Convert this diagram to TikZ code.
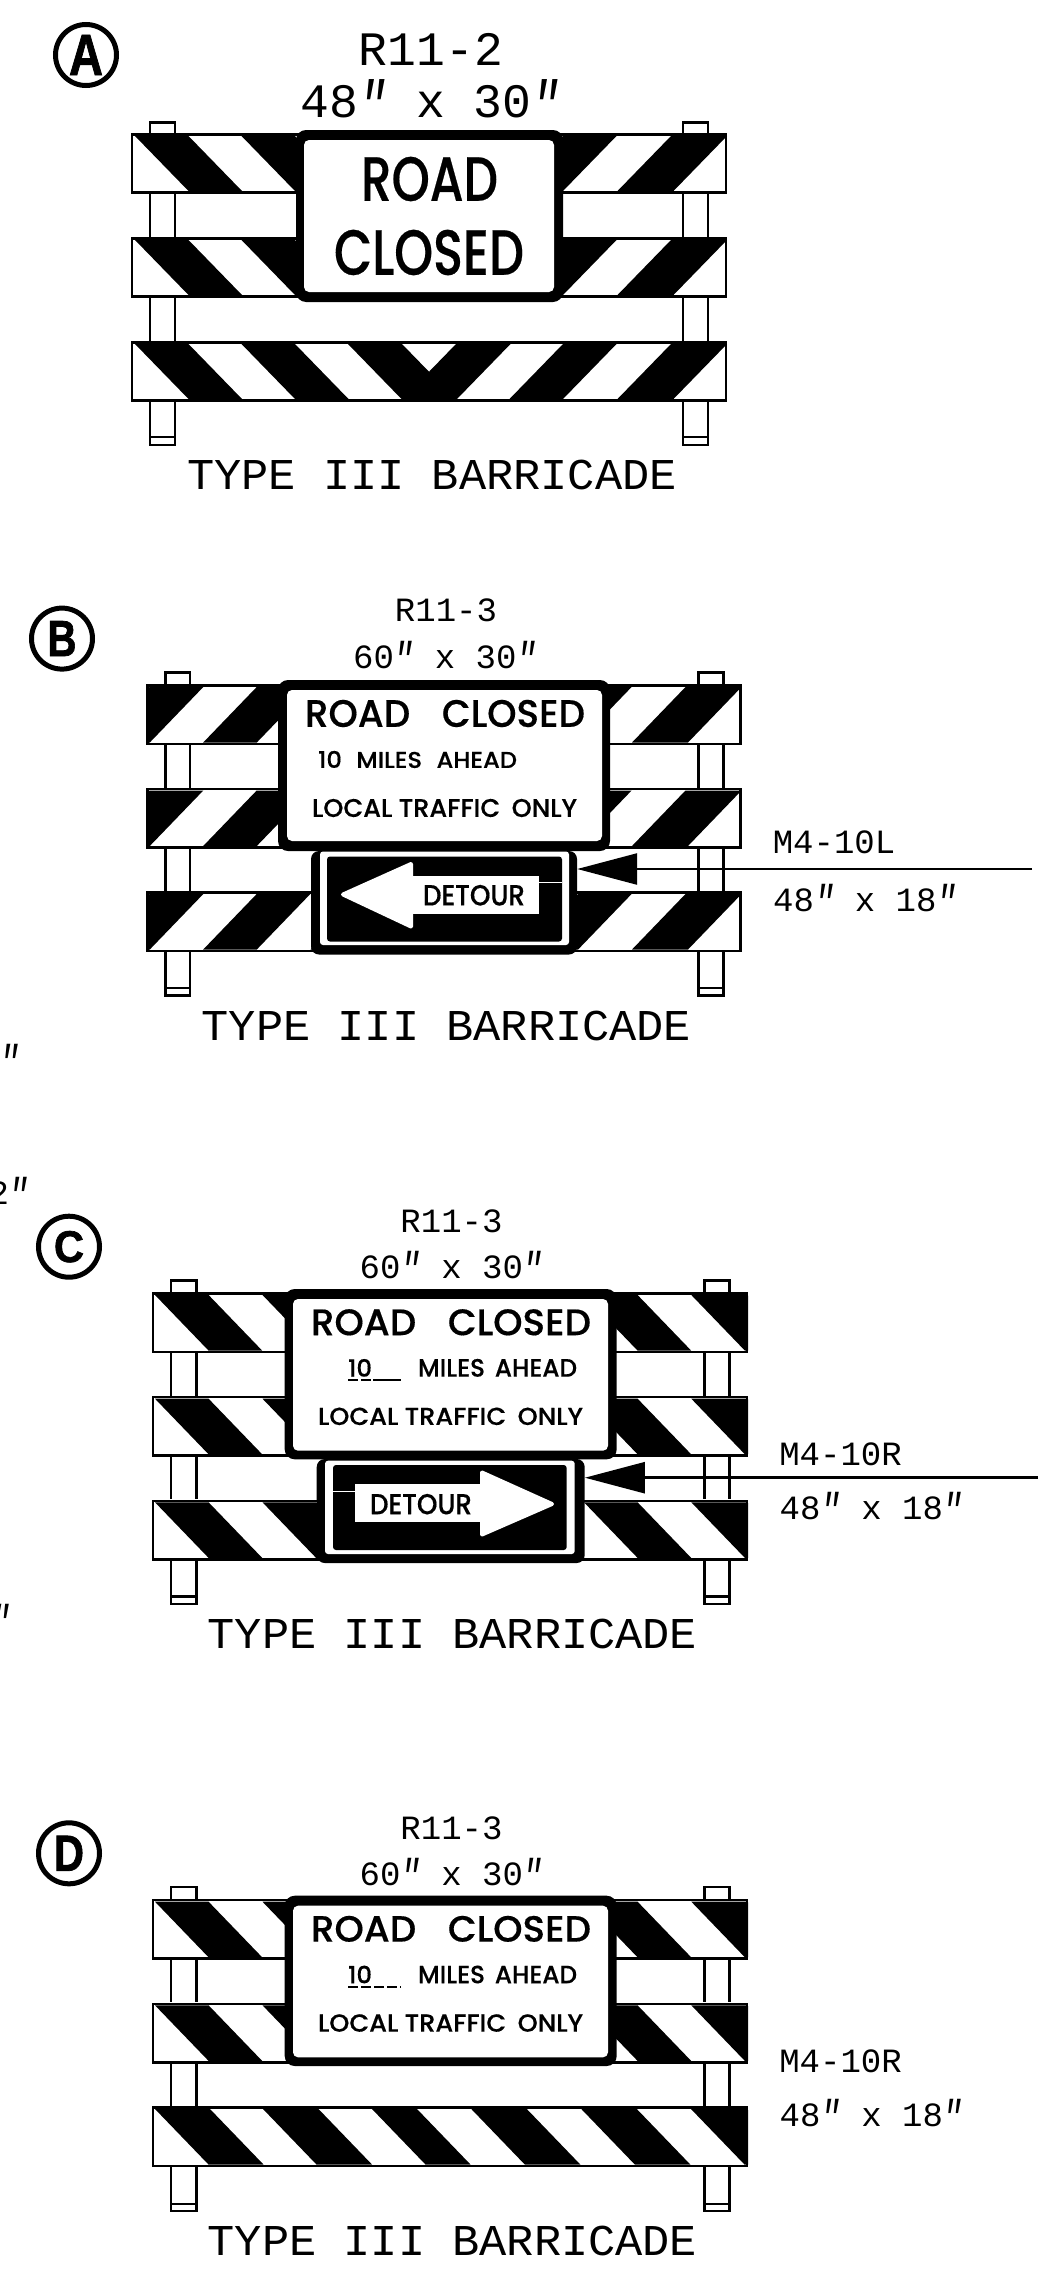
\documentclass[tikz,border=0pt]{standalone}
\usepackage{fontspec}
\usepackage{graphicx}
\usetikzlibrary{arrows.meta}
\newfontfamily\monof{Liberation Mono}
\newfontfamily\signf{Poppins}[UprightFont=* Medium,FakeBold=0.4]
\newfontfamily\letf{Liberation Sans}[UprightFont=* Bold,FakeBold=1.5]
\newcommand{\prm}{\raisebox{-.19em}{\scalebox{1}[1.35]{\itshape ″}}}
% fitted text: name, x1,y1,x2,y2, text
\newcommand{\fittext}[6]{\node[inner sep=0,anchor=center] (#1) at ({(#2+#4)/2},{(#3+#5)/2}) {\resizebox{\dimexpr#4pt-#2pt\relax}{\dimexpr#5pt-#3pt\relax}{\signf #6}};}
\newcommand{\monotext}[5]{\node[inner sep=0,anchor=base] (#1) at (#3,#4) {\fontsize{#2}{#2}\monof #5};}
\newcommand{\typetext}[3]{\node[inner sep=0,anchor=base] (#1) at (#2,#3) {\scalebox{1.03}[1]{\fontsize{44}{44}\monof TYPE III BARRICADE}};}
\newcommand{\letter}[7]{\node[circ,minimum size=#4pt] (#1) at (#2,#3) {};
  \node[inner sep=0] (#1t) at (#2,#3) {\resizebox{#5pt}{#6pt}{\letf #7}};}
\newcommand{\barpost}[5]{\draw[thinline,fill=white] (#1,#3) rectangle (#2,#4);\draw[thinline] (#1,#5)--(#2,#5);}
\newcommand{\stripebar}[6]{%
 \begin{scope}
  \clip (#1,#3) rectangle (#2,#4);
  \fill[white] (#1,#3) rectangle (#2,#4);
  \foreach \a/\w in {#5} {\fill[black] (\a,#3+3) -- (\a+\w,#3+3) -- (\a+\w+53.5,#4-2.5) -- (\a+53.5,#4-2.5) -- cycle;}
  \foreach \a/\w in {#6} {\fill[black] (\a,#3+3) -- (\a+\w,#3+3) -- (\a+\w-53.5,#4-2.5) -- (\a-53.5,#4-2.5) -- cycle;}
 \end{scope}
 \draw[thinline] (#1+1,#3+1.5) rectangle (#2-1,#4-1);}
% rounded rectangle node: name, x1,y1,x2,y2, radius, colour
\newcommand{\signbox}[7]{\node[inner sep=0,fill=#7,rounded corners=#6pt,minimum width=\dimexpr#4pt-#2pt\relax,minimum height=\dimexpr#5pt-#3pt\relax] (#1) at ({(#2+#4)/2},{(#3+#5)/2}) {};}
\tikzset{
 thinline/.style={line width=2.5pt,line join=miter},
 circ/.style={circle,draw=black,line width=5pt,inner sep=0,fill=white},
 callout/.style={line width=2.5pt,-{Triangle[length=60pt,width=31pt]},shorten >=0pt},
 dashul/.style={line width=2pt,dash pattern=on 10pt off 3pt},
 solidul/.style={line width=2pt}
}
\begin{document}
\begin{tikzpicture}[x=1pt,y=-1pt]
\useasboundingbox (0,0) rectangle (1045,2283);
\fill[white] (0,0) rectangle (1045,2283);
\clip (0,0) rectangle (1045,2283);
%%% A
\letter{la}{86}{55}{61}{34}{40}{A}
\monotext{aR}{48}{431}{66}{R11-2}
\monotext{aS}{48}{430.5}{117}{48\prm\ x 30\prm}
\barpost{150}{175}{122.5}{445}{437}
\barpost{683}{708}{122.5}{445}{437}
\foreach \yy/\zz in {133/193.5,237/297.5,341/401.5}{
\stripebar{131}{727}{\yy}{\zz}{135/53.5,241.5/53.5,348/54}{456/54.5,563/53.5,671/56}}
\signbox{sa}{296}{130}{563}{302}{10}{black}
\signbox{sai}{304}{140}{554}{292}{5}{white}
\fittext{aroad}{361}{157}{498}{201}{ROAD}
\fittext{aclosed}{334}{230}{524}{275}{CLOSED}
\typetext{at}{432}{489}
%%% B
\letter{lb}{62}{638.6}{61}{29}{35}{B}
\monotext{bR}{34}{446}{621}{R11-3}
\monotext{bS}{34}{445}{668}{60\prm\ x 30\prm}
\barpost{165.5}{190}{672.5}{995.5}{988}
\barpost{698.5}{723.5}{672.5}{995.5}{988}
\foreach \yy/\zz in {684/745,787.5/848.5,891/952}{
\stripebar{146.5}{741.5}{\yy}{\zz}{-500/1}{149.5/53.8,256.7/53.6,364/53.6,471/53.6,578/53.6,685.5/56}}
\signbox{sb}{278}{680}{610}{851}{10}{black}
\signbox{sbi}{287}{690}{602}{841}{5}{white}
\fittext{broad}{305}{700}{585}{727}{ROAD\hspace{.85em}CLOSED}
\fittext{bmiles}{318}{751}{517}{768}{10\hspace{.6em}MILES\hspace{.6em}AHEAD}
\fittext{blocal}{312}{799}{577}{817}{LOCAL\hspace{.25em}TRAFFIC\hspace{.45em}ONLY}
\signbox{db}{311}{851}{577}{954.5}{8}{black}
\signbox{dbw}{320}{851.5}{569}{945}{3}{white}
\signbox{dbk}{327}{856.5}{562}{941.5}{3}{black}
\fill[white,line join=round,draw=white,line width=4pt] (343,894.5) -- (411,864) -- (411,926.5) -- cycle;
\fill[white] (405,876) rectangle (539,913.7);
\draw[white,line width=1pt] (539,882) -- (562,882);
\fittext{bdet}{423}{885}{525}{905.5}{DETOUR}
\coordinate (btail) at (1032,869);
\draw[callout] (btail) -- (btail -| db.east);
\monotext{bM}{34}{834}{853}{M4-10L}
\monotext{bD}{34}{865}{911}{48\prm\ x 18\prm}
\typetext{bt}{446.5}{1040}
%%% stray fragments at the edge
\monotext{st1}{34}{10}{1071}{\prm}
\monotext{st2}{34}{9}{1204}{2\prm}
\monotext{st3}{34}{0.4}{1631}{\prm}
%%% C
\letter{lc}{69}{1246.7}{61}{30}{31}{C}
\monotext{cR}{34}{451.5}{1232.7}{R11-3}
\monotext{cS}{34}{451.5}{1278}{60\prm\ x 30\prm}
\barpost{171}{196.5}{1280.5}{1604}{1596.7}
\barpost{704.5}{729.5}{1280.5}{1604}{1596.7}
\foreach \yy/\zz in {1292/1353,1395.7/1456.7,1499.3/1560.3}{
\stripebar{152}{748}{\yy}{\zz}{155/53.6,262.5/53.6,369.7/53.6,476.9/53.6,584/53.6,691.3/56}{-500/1}}
\signbox{sc}{284.7}{1289}{616.7}{1459.3}{10}{black}
\signbox{sci}{293}{1299}{608}{1450.7}{5}{white}
\fittext{croad}{311}{1309.3}{591}{1335.3}{ROAD\hspace{.85em}CLOSED}
\fittext{cten}{348}{1359}{372}{1376.7}{10}
\coordinate (cu1) at (348,1380); \coordinate (cu2) at (373,1380); \coordinate (cu3) at (401,1380);
\draw[dashul] (cu1) -- (cu2); \draw[solidul] (cu2) -- (cu3);
\fittext{cmiles}{418}{1359}{577}{1376.7}{MILES\hspace{.4em}AHEAD}
\fittext{clocal}{318}{1407.7}{583}{1425}{LOCAL\hspace{.25em}TRAFFIC\hspace{.45em}ONLY}
\signbox{dc}{316.7}{1459}{584.7}{1563}{8}{black}
\signbox{dcw}{325}{1460.7}{574.7}{1554}{3}{white}
\signbox{dck}{333}{1465}{566.7}{1550}{3}{black}
\fill[white,line join=round,draw=white,line width=4pt] (552,1504) -- (482,1472.5) -- (482,1534.5) -- cycle;
\fill[white] (355,1484.3) rectangle (488,1521.7);
\draw[white,line width=1pt] (333,1491) -- (355,1491);
\fittext{cdet}{370}{1494}{472}{1514.3}{DETOUR}
\coordinate (ctail) at (1038,1477.7);
\draw[callout] (ctail) -- (ctail -| dc.east);
\monotext{cM}{34}{840.5}{1465.7}{M4-10R}
\monotext{cD}{34}{871.5}{1519.3}{48\prm\ x 18\prm}
\typetext{ct}{452.5}{1648.3}
%%% D
\letter{ld}{69}{1853.3}{61}{30}{35}{D}
\monotext{dR}{34}{451.5}{1839.3}{R11-3}
\monotext{dS}{34}{451.5}{1885}{60\prm\ x 30\prm}
\barpost{171}{196.5}{1887}{2211}{2204}
\barpost{704.5}{729.5}{1887}{2211}{2204}
\foreach \yy/\zz in {1898.7/1959.7,2002.3/2063.3}{
\stripebar{152}{748}{\yy}{\zz}{155/53.6,262.5/53.6,369.7/53.6,476.9/53.6,584/53.6,691.3/56}{-500/1}}
\stripebar{152}{748}{2106}{2167}{155/55,263/55.5,372/45,471.3/55.5,581.3/55.5,691/56}{-500/1}
\signbox{sd}{284.7}{1895.7}{616.7}{2066}{10}{black}
\signbox{sdi}{293}{1905.7}{608}{2057.3}{5}{white}
\fittext{droad}{311}{1916}{591}{1941.7}{ROAD\hspace{.85em}CLOSED}
\fittext{dten}{348}{1965.7}{372}{1983.3}{10}
\coordinate (du1) at (348,1987); \coordinate (du2) at (401,1987);
\draw[dashul] (du1) -- (du2);
\fittext{dmiles}{418}{1965.7}{577}{1983.3}{MILES\hspace{.4em}AHEAD}
\fittext{dlocal}{318}{2014.3}{583}{2031.7}{LOCAL\hspace{.25em}TRAFFIC\hspace{.45em}ONLY}
\monotext{dM}{34}{840.5}{2072.7}{M4-10R}
\monotext{dD}{34}{871.5}{2126}{48\prm\ x 18\prm}
\typetext{dt}{452.5}{2255}
\end{tikzpicture}
\end{document}
